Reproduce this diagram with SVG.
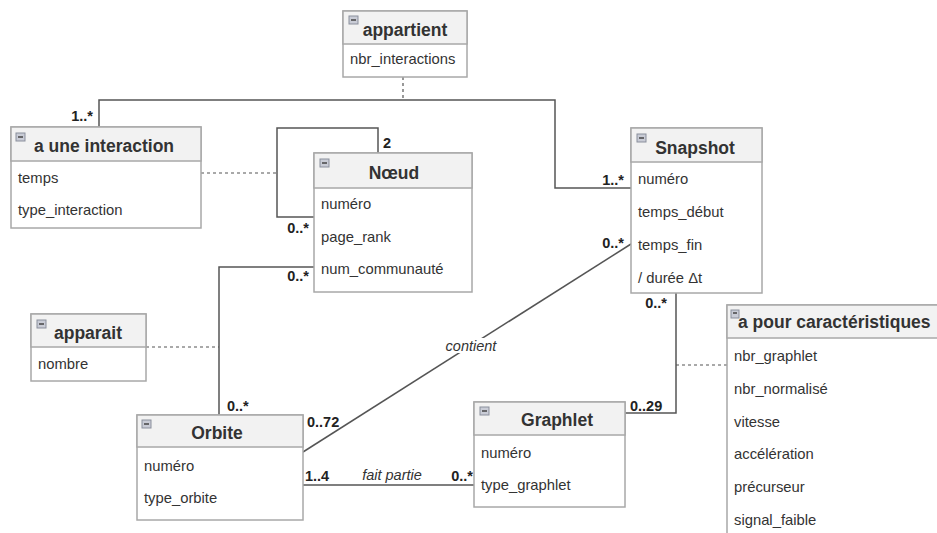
<svg xmlns="http://www.w3.org/2000/svg" width="937" height="533" viewBox="0 0 937 533">
<defs>
<style>
.box{fill:#fff;stroke:#a8a8a8;stroke-width:1.5}
.hdr{fill:#f2f2f2;stroke:#a8a8a8;stroke-width:1.5}
.icon{fill:#c9ccd6;stroke:#8a8f9c;stroke-width:1}
.minus{stroke:#444;stroke-width:1.5}
.title{font-family:"Liberation Sans",Arial,sans-serif;font-weight:bold;font-size:17.5px;fill:#333}
.attr{font-family:"Liberation Sans",Arial,sans-serif;font-size:14.8px;fill:#333}
.mult{font-family:"Liberation Sans",Arial,sans-serif;font-weight:bold;font-size:14.5px;fill:#222}
.role{font-family:"Liberation Sans",Arial,sans-serif;font-style:italic;font-size:14.5px;fill:#333}
.line{fill:none;stroke:#555;stroke-width:1.5}
.dash{fill:none;stroke:#555;stroke-width:1.2;stroke-dasharray:3,3}
</style>
</defs>
<rect width="937" height="533" fill="#fff"/>

<g id="connectors">
<polyline class="line" points="99,127 99,100 555,100 555,188 631,188"/>
<line class="dash" x1="403" y1="77" x2="403" y2="100"/>
<polyline class="line" points="378,153 378,128 277,128 277,217 314,217"/>
<line class="dash" x1="201" y1="173" x2="277" y2="173"/>
<polyline class="line" points="314,267 219,267 219,415"/>
<line class="dash" x1="146" y1="347" x2="219" y2="347"/>
<line class="line" x1="303" y1="452" x2="631" y2="244"/>
<line class="line" x1="303" y1="485" x2="474" y2="485"/>
<polyline class="line" points="676,293 676,413 625,413"/>
<line class="dash" x1="676" y1="365" x2="727" y2="365"/>
<rect x="441" y="338" width="60" height="15" fill="#fff"/>
<text class="role" x="471" y="351" text-anchor="middle">contient</text>
<text class="role" x="392" y="480" text-anchor="middle">fait partie</text>
<text class="mult" x="93" y="121" text-anchor="end">1..*</text>
<text class="mult" x="383" y="148">2</text>
<text class="mult" x="309" y="233" text-anchor="end">0..*</text>
<text class="mult" x="309" y="281" text-anchor="end">0..*</text>
<text class="mult" x="624" y="185" text-anchor="end">1..*</text>
<text class="mult" x="624" y="248" text-anchor="end">0..*</text>
<text class="mult" x="667" y="308" text-anchor="end">0..*</text>
<text class="mult" x="227" y="411">0..*</text>
<text class="mult" x="307" y="427">0..72</text>
<text class="mult" x="305" y="481">1..4</text>
<text class="mult" x="473" y="481" text-anchor="end">0..*</text>
<text class="mult" x="630" y="411">0..29</text>
</g>

<g id="appartient">
<rect class="box" x="343" y="11" width="124" height="66"/>
<rect class="hdr" x="343" y="11" width="124" height="33"/>
<rect class="icon" x="349" y="16" width="9" height="8"/><line class="minus" x1="351" y1="20" x2="356" y2="20"/>
<text class="title" x="405" y="36" text-anchor="middle">appartient</text>
<text class="attr" x="350" y="64">nbr_interactions</text>
</g>

<g id="a_une_interaction">
<rect class="box" x="11" y="127" width="190" height="101"/>
<rect class="hdr" x="11" y="127" width="190" height="34"/>
<rect class="icon" x="16" y="133" width="9" height="8"/><line class="minus" x1="18" y1="137" x2="23" y2="137"/>
<text class="title" x="104" y="152" text-anchor="middle">a une interaction</text>
<text class="attr" x="18" y="183">temps</text>
<text class="attr" x="18" y="215">type_interaction</text>
</g>

<g id="noeud">
<rect class="box" x="314" y="153" width="158" height="139"/>
<rect class="hdr" x="314" y="153" width="158" height="35"/>
<rect class="icon" x="320" y="159" width="9" height="8"/><line class="minus" x1="322" y1="163" x2="327" y2="163"/>
<text class="title" x="394" y="179" text-anchor="middle">Nœud</text>
<text class="attr" x="321" y="209">numéro</text>
<text class="attr" x="321" y="242">page_rank</text>
<text class="attr" x="321" y="274">num_communauté</text>
</g>

<g id="snapshot">
<rect class="box" x="631" y="128" width="131" height="165"/>
<rect class="hdr" x="631" y="128" width="131" height="34"/>
<rect class="icon" x="637" y="134" width="9" height="8"/><line class="minus" x1="639" y1="138" x2="644" y2="138"/>
<text class="title" x="695" y="154" text-anchor="middle">Snapshot</text>
<text class="attr" x="638" y="184">numéro</text>
<text class="attr" x="638" y="217">temps_début</text>
<text class="attr" x="638" y="250">temps_fin</text>
<text class="attr" x="638" y="283">/ durée Δt</text>
</g>

<g id="apparait">
<rect class="box" x="31" y="314" width="115" height="67"/>
<rect class="hdr" x="31" y="314" width="115" height="33"/>
<rect class="icon" x="37" y="320" width="9" height="8"/><line class="minus" x1="39" y1="324" x2="44" y2="324"/>
<text class="title" x="88" y="339" text-anchor="middle">apparait</text>
<text class="attr" x="38" y="369">nombre</text>
</g>

<g id="orbite">
<rect class="box" x="137" y="415" width="166" height="105"/>
<rect class="hdr" x="137" y="415" width="166" height="32"/>
<rect class="icon" x="142" y="420" width="9" height="8"/><line class="minus" x1="144" y1="424" x2="149" y2="424"/>
<text class="title" x="217" y="439" text-anchor="middle">Orbite</text>
<text class="attr" x="144" y="471">numéro</text>
<text class="attr" x="144" y="503">type_orbite</text>
</g>

<g id="graphlet">
<rect class="box" x="474" y="402" width="151" height="105"/>
<rect class="hdr" x="474" y="402" width="151" height="33"/>
<rect class="icon" x="480" y="407" width="9" height="8"/><line class="minus" x1="482" y1="411" x2="487" y2="411"/>
<text class="title" x="557" y="426" text-anchor="middle">Graphlet</text>
<text class="attr" x="481" y="458">numéro</text>
<text class="attr" x="481" y="490">type_graphlet</text>
</g>

<g id="a_pour_caracteristiques">
<rect class="box" x="727" y="305" width="240" height="250"/>
<rect class="hdr" x="727" y="305" width="240" height="33"/>
<rect class="icon" x="731" y="310" width="8" height="8"/><line class="minus" x1="733" y1="313" x2="737" y2="313"/>
<text class="title" x="738" y="328">a pour caractéristiques</text>
<text class="attr" x="734" y="361">nbr_graphlet</text>
<text class="attr" x="734" y="394">nbr_normalisé</text>
<text class="attr" x="734" y="427">vitesse</text>
<text class="attr" x="734" y="459">accélération</text>
<text class="attr" x="734" y="492">précurseur</text>
<text class="attr" x="734" y="525">signal_faible</text>
</g>
</svg>
